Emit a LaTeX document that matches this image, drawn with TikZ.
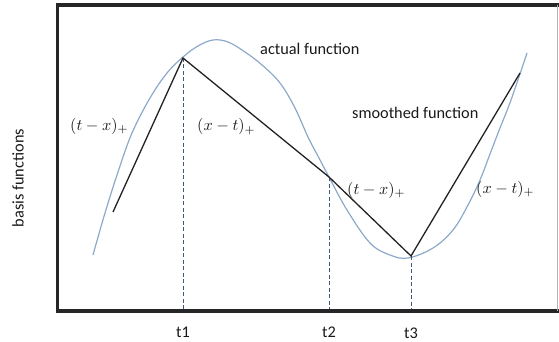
\documentclass[tikz,border=0pt]{standalone}
\usepackage{fontspec}
\usepackage{graphicx}
\setmainfont{Carlito}
\definecolor{framecol}{HTML}{262626}
\definecolor{curvecol}{HTML}{8CA9C9}
\definecolor{dashcol}{HTML}{40587A}
\definecolor{linecol}{HTML}{222222}
\newcommand{\bigmath}[1]{\scalebox{1.62}{\fontsize{10}{12}\selectfont$#1$}}
\tikzset{
  frameline/.style={line width=3.6pt, color=framecol, line cap=rect},
  knotline/.style={line width=1.3pt, color=linecol},
  actualcurve/.style={line width=1.2pt, color=curvecol},
  knotdash/.style={line width=0.8pt, color=dashcol, dash pattern=on 4pt off 2.5pt},
  lbl/.style={inner sep=0pt, font=\fontsize{16.3}{19}\selectfont, text=black!90},
  mlbl/.style={inner sep=0pt, anchor=base west, text=black!90},
}
\begin{document}
\begin{tikzpicture}[x=1pt,y=-1pt]
\useasboundingbox (0,0) rectangle (559,342);
% frame
\coordinate (fbl) at (57.5,311);
\coordinate (ftl) at (57.5,5);
\coordinate (ftr) at (557.5,5);
\coordinate (fbr) at (557.5,311);
\draw[frameline] (fbr) -- (fbl) -- (ftl) -- (ftr);
\draw[line width=0.6pt, color=black!30] (ftr) -- (fbr);
% actual function (blue curve)
\draw[actualcurve] plot[smooth, tension=0.6] coordinates {
 (93,255) (105,213) (118,172) (132,133) (150,98) (167,73) (183,57)
 (198,46) (213,40) (228,42) (245,52) (262,65) (280,83) (295,108)
 (308,137) (319,158) (329,177) (347,210) (370,243) (390,255) (408,258)
 (433,248) (453,230) (468,205) (480,180) (490,154) (500,128) (511,100) (527,53)};
% knots
\coordinate (k0) at (113,212);
\coordinate (k1) at (183,58);
\coordinate (k2) at (329,177);
\coordinate (k3) at (411,256);
\coordinate (k4) at (520,73);
\coordinate (b1) at (183,309);
\coordinate (b2) at (329,309);
\coordinate (b3) at (411,309);
\draw[knotdash] (k1) -- (b1);
\draw[knotdash] (k2) -- (b2);
\draw[knotdash] (k3) -- (b3);
\draw[knotline, line join=miter] (k0) -- (k1) -- (k2) -- (k3) -- (k4);
% labels
\node[lbl, anchor=base] (t1) at (183,337) {t1};
\node[lbl, anchor=base] (t2) at (329,337) {t2};
\node[lbl, anchor=base] (t3) at (411,338) {t3};
\node[lbl, anchor=base west] (actual) at (260,55) {actual function};
\node[lbl, anchor=base west] (smooth) at (352,118) {smoothed function};
\node[lbl, rotate=90] (ylab) at (18,178) {basis functions};
\node[mlbl] (m1) at (70,130) {\bigmath{(t-x)_+}};
\node[mlbl] (m2) at (197,131) {\bigmath{(x-t)_+}};
\node[mlbl] (m3) at (347,194) {\bigmath{(t-x)_+}};
\node[mlbl] (m4) at (476,193) {\bigmath{(x-t)_+}};
\end{tikzpicture}
\end{document}
